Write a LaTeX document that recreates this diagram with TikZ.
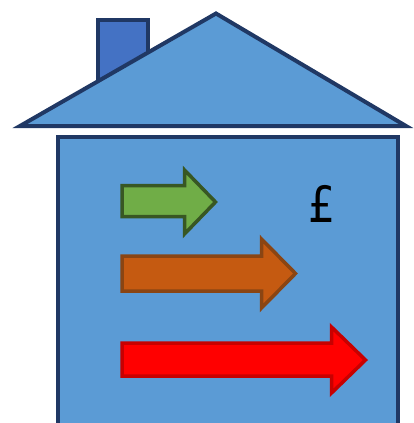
\documentclass[tikz,border=0pt]{standalone}
\usepackage{fontspec}
\setmainfont{DejaVu Sans}
\definecolor{houseblue}{HTML}{5B9BD5}
\definecolor{chimneyblue}{HTML}{4472C4}
\definecolor{houseline}{HTML}{203864}
\definecolor{greenfill}{HTML}{70AD47}
\definecolor{greenline}{HTML}{385723}
\definecolor{orangefill}{HTML}{C55A11}
\definecolor{orangeline}{HTML}{8A4513}
\definecolor{redline}{HTML}{C80000}
\tikzset{
  housepart/.style={draw=houseline,line width=4pt,miter limit=20},
  arrowshape/.style={line width=3.5pt,miter limit=20},
}
\begin{document}
\begin{tikzpicture}[x=1pt,y=-1pt]
\useasboundingbox (0,0) rectangle (414,423);
\clip (0,0) rectangle (414,423);
% chimney
\draw[housepart,fill=chimneyblue] (97.5,90) -- (97.5,20) -- (148,20) -- (148,60);
% roof
\draw[housepart,fill=houseblue] (216,13.5) -- (406,126) -- (20,126) -- cycle;
% body
\draw[housepart,fill=houseblue] (58,440) -- (58,136.5) -- (398,136.5) -- (398,440);
% arrows
\draw[arrowshape,draw=greenline,fill=greenfill] (122,185.5) -- (184.5,185.5) -- (184.5,170) -- (215.5,202) -- (184.5,234) -- (184.5,216.5) -- (122,216.5) -- cycle;
\draw[arrowshape,draw=orangeline,fill=orangefill] (122,256) -- (261.5,256) -- (261.5,239) -- (295.5,273.5) -- (261.5,308) -- (261.5,291) -- (122,291) -- cycle;
\draw[arrowshape,draw=redline,fill=red] (122,343) -- (331.5,343) -- (331.5,327) -- (365.5,360) -- (331.5,393) -- (331.5,376) -- (122,376) -- cycle;
% label
\node[text=black,font=\fontsize{50}{60}\selectfont,inner sep=0pt,xscale=0.85] (pound) at (322.5,203.5) {£};
\end{tikzpicture}
\end{document}
